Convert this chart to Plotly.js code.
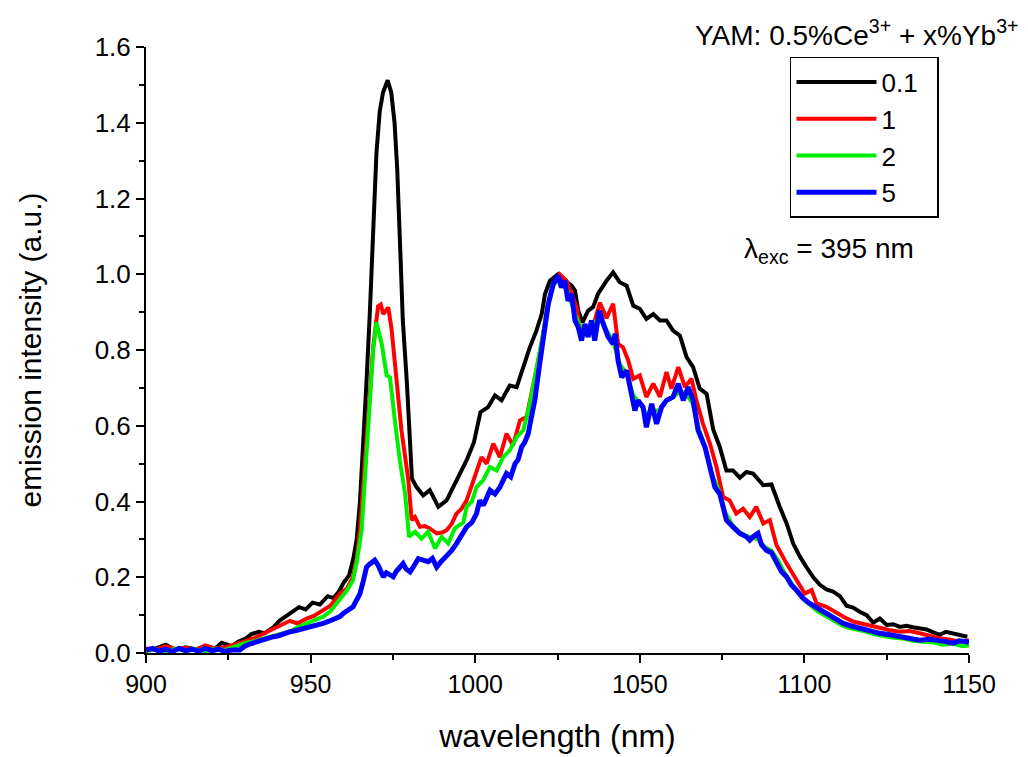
<!DOCTYPE html>
<html>
<head>
<meta charset="utf-8">
<script src="https://cdn.plot.ly/plotly-3.0.1.min.js"></script>
<style>html,body{margin:0;padding:0;background:#fff;}#chart{width:1028px;height:757px;}</style>
</head>
<body>
<div id="chart"></div>
<script>
// Yb 0.1%
var wl_01 = [900,903,906,909,912,915,918,921,923,926,928,930.4,932,934.3,936,938.5,940.5,942.5,944.5,946.5,948.5,950.6,952.8,955.2,957,958.6,960,961.7,963,964,965,966,967,968,969,970,971,972,973.4,974.5,975.5,976.3,977.3,978,979.2,980.2,980.8,982.2,984.2,986.2,988.8,991.3,993.3,995.5,997.4,999.6,1001.6,1003.9,1006,1008,1010.5,1012.6,1014.6,1016.6,1018.6,1020.2,1021.2,1022.7,1025.2,1027.2,1029.3,1030.3,1031.3,1032.6,1034.3,1035.8,1037.3,1039.9,1041.9,1043.9,1046,1048,1050,1052,1054.1,1056.1,1058.1,1060.1,1062.2,1064.2,1066.2,1068.2,1070.3,1072.3,1074.3,1076.3,1078.3,1080.4,1082.4,1084.4,1087.5,1090,1092.5,1094.6,1096.6,1098.6,1100.6,1102.7,1104.7,1106.7,1108.7,1110.8,1112.8,1114.8,1116.8,1118.9,1120.9,1122.9,1125,1127,1129,1131,1133,1135,1137.1,1139,1141.1,1143,1145.2,1147,1149.5];
var int_01 = [0.010,0.012,0.022,0.008,0.015,0.010,0.016,0.012,0.027,0.018,0.030,0.039,0.050,0.056,0.052,0.066,0.085,0.096,0.110,0.121,0.115,0.133,0.128,0.150,0.145,0.162,0.185,0.205,0.250,0.300,0.400,0.550,0.720,0.900,1.130,1.320,1.430,1.480,1.512,1.480,1.400,1.280,1.050,0.880,0.720,0.544,0.460,0.438,0.416,0.430,0.386,0.403,0.438,0.475,0.509,0.556,0.636,0.649,0.680,0.667,0.706,0.702,0.755,0.807,0.851,0.895,0.948,0.983,1.000,0.983,0.970,0.957,0.904,0.873,0.904,0.913,0.948,0.983,1.005,0.979,0.970,0.917,0.909,0.882,0.895,0.878,0.878,0.851,0.838,0.781,0.755,0.698,0.684,0.590,0.544,0.482,0.482,0.463,0.478,0.474,0.443,0.445,0.386,0.342,0.289,0.255,0.227,0.200,0.180,0.168,0.162,0.150,0.125,0.120,0.109,0.100,0.080,0.091,0.074,0.076,0.069,0.072,0.068,0.066,0.062,0.055,0.048,0.056,0.052,0.049,0.043];

// Yb 1%
var wl_1 = [900,903,906,909,912,915,918,921,924,927,930.4,933,935,938.7,941,943.7,946,948.8,951,953.8,956,958.9,961,962.9,964,965,966,967,968,969,970.5,971.3,972.1,973.6,974.6,976.1,977.6,979.7,980.7,981.7,983.2,984.7,986.2,988.3,990,991.3,992.8,994.3,995.8,997.4,999.4,1001.9,1003.5,1005.5,1007.5,1009.5,1011.5,1013.6,1015.6,1017.1,1018.6,1020.2,1021.7,1023.7,1025.7,1027.7,1029.3,1030.8,1031.8,1033.8,1036.3,1037.9,1039.9,1041.9,1043.4,1044.9,1046.5,1048,1050,1052,1054.1,1056.1,1058.1,1059.6,1061.7,1063.7,1065.7,1067.2,1069.2,1071.3,1073.3,1075.3,1077.3,1079.3,1081.4,1083.4,1085.4,1087.5,1089.5,1091.5,1094.6,1097.6,1100.1,1102.2,1103.7,1106.7,1109.8,1112,1114.8,1118.9,1122.9,1126,1129,1132,1135,1138,1141.1,1144,1147.2,1150];
var int_1 = [0.012,0.008,0.018,0.010,0.014,0.008,0.020,0.012,0.015,0.022,0.032,0.040,0.048,0.064,0.072,0.085,0.078,0.091,0.098,0.113,0.125,0.157,0.170,0.201,0.250,0.324,0.450,0.588,0.700,0.807,0.915,0.920,0.895,0.912,0.855,0.720,0.588,0.456,0.351,0.359,0.333,0.335,0.329,0.316,0.318,0.324,0.340,0.368,0.380,0.403,0.456,0.517,0.500,0.553,0.517,0.579,0.548,0.614,0.623,0.684,0.755,0.816,0.904,0.974,1.000,0.983,0.948,0.913,0.860,0.843,0.878,0.925,0.884,0.922,0.816,0.807,0.772,0.724,0.733,0.676,0.711,0.676,0.742,0.698,0.755,0.702,0.724,0.667,0.605,0.553,0.491,0.412,0.403,0.368,0.381,0.359,0.386,0.342,0.351,0.285,0.236,0.192,0.157,0.166,0.131,0.122,0.105,0.095,0.083,0.074,0.065,0.060,0.056,0.058,0.052,0.045,0.039,0.036,0.030,0.034];

// Yb 2%
var wl_2 = [900,903,906,909,912,915,918,921,924,927,930,933,936,938.7,941,943.7,946,948.8,951,953.8,956,958.9,961,962.9,964,965.5,966.8,968,969,970,971.6,973.1,974.1,975.6,977.1,978.7,979.9,981.7,983.7,985.7,987.8,989.8,991.8,993.8,996.4,997.4,999,1000.4,1002.4,1004.5,1006.5,1008.5,1010.5,1012.6,1014.6,1016.6,1018.3,1019.8,1021.2,1022.5,1023.7,1025.2,1026.5,1027.5,1029,1030.5,1032,1034,1036,1038,1040,1042,1044,1046,1048,1050,1052,1054,1056,1058,1060,1062,1064,1066,1068,1070,1072,1074,1076,1078,1080,1082,1084,1086,1088,1090,1092,1094,1096,1098,1100,1102,1104,1106,1108,1110,1112,1115,1118,1121,1124,1127,1130,1133,1136,1139,1142,1145,1148,1150];
var int_2 = [0.005,0.010,0.004,0.012,0.006,0.010,0.004,0.012,0.008,0.018,0.026,0.032,0.038,0.043,0.050,0.056,0.068,0.078,0.085,0.096,0.110,0.140,0.165,0.192,0.240,0.324,0.500,0.676,0.800,0.873,0.816,0.733,0.728,0.614,0.509,0.421,0.307,0.320,0.302,0.320,0.276,0.307,0.289,0.329,0.345,0.386,0.400,0.438,0.456,0.491,0.482,0.517,0.535,0.570,0.588,0.658,0.740,0.800,0.870,0.930,0.970,0.990,0.975,0.970,0.930,0.890,0.860,0.860,0.870,0.890,0.850,0.820,0.760,0.740,0.680,0.660,0.630,0.640,0.640,0.665,0.675,0.690,0.685,0.660,0.590,0.540,0.470,0.430,0.370,0.340,0.320,0.310,0.305,0.300,0.280,0.270,0.245,0.210,0.185,0.160,0.140,0.125,0.110,0.100,0.090,0.080,0.070,0.063,0.058,0.050,0.045,0.040,0.038,0.032,0.030,0.028,0.022,0.025,0.018,0.020];

// Yb 5%
var wl_5 = [900,902,904,906,908,910,912,914,916,918,920,922,924,926,928.5,930,932,933.6,935,937,938.7,940,942,943.7,945,947,948.8,950,952,953.8,955,957,958.9,960,961.5,962.9,964,965,966,967,968,969.5,970.5,971.3,972.1,973,974,975.1,976,977.1,978.1,979,980.2,981.2,982.7,984.2,985.7,987,988.3,989.5,991.3,992.8,994.3,995.8,997.4,999,1000.4,1001.4,1002.5,1004.5,1006,1007.5,1008.5,1009.5,1010.8,1012.1,1013,1014.1,1015,1016.1,1017,1018.1,1019.6,1021.2,1022.2,1023.7,1025.2,1026.2,1027.2,1028.2,1029.3,1030.3,1031.3,1032.3,1033.3,1034.3,1035.3,1036.3,1037.7,1038.9,1040.4,1041.9,1042.5,1043.4,1044.5,1046,1047.5,1048.5,1049.5,1051,1052,1053.6,1055.1,1056.6,1058.1,1060.1,1061.7,1063.2,1064.7,1066.2,1067.7,1069.8,1071.3,1072.8,1074.3,1076.3,1078.3,1080.4,1082.4,1083.4,1084.4,1085.9,1087,1088.5,1090,1091.5,1093,1094.6,1096,1097.6,1099.5,1101.6,1104,1106.7,1109,1111.8,1114,1116.8,1119.5,1122.9,1126,1129,1132,1135,1138,1141.1,1143,1145.2,1147,1149.2,1150];
var int_5 = [0.008,0.012,0.005,0.010,0.004,0.012,0.006,0.010,0.005,0.012,0.006,0.010,0.004,0.008,0.008,0.018,0.025,0.030,0.033,0.038,0.043,0.045,0.052,0.056,0.058,0.062,0.065,0.068,0.074,0.078,0.082,0.090,0.096,0.105,0.112,0.122,0.140,0.157,0.190,0.227,0.235,0.245,0.232,0.215,0.201,0.212,0.205,0.201,0.215,0.227,0.236,0.222,0.214,0.227,0.249,0.245,0.241,0.250,0.227,0.240,0.254,0.270,0.289,0.310,0.333,0.345,0.368,0.403,0.390,0.430,0.420,0.438,0.460,0.474,0.465,0.500,0.510,0.544,0.555,0.579,0.620,0.667,0.764,0.860,0.922,0.974,0.996,0.965,0.983,0.930,0.948,0.878,0.860,0.825,0.869,0.834,0.878,0.825,0.904,0.869,0.834,0.816,0.843,0.772,0.728,0.746,0.684,0.640,0.667,0.649,0.596,0.658,0.605,0.649,0.667,0.676,0.711,0.667,0.702,0.667,0.588,0.544,0.491,0.438,0.420,0.351,0.333,0.316,0.307,0.298,0.307,0.316,0.285,0.271,0.265,0.240,0.215,0.201,0.180,0.166,0.145,0.131,0.118,0.105,0.090,0.078,0.072,0.065,0.058,0.052,0.048,0.043,0.040,0.034,0.036,0.034,0.030,0.026,0.032,0.030,0.028];

var seriesNames = ['0.1','1','2','5'];
var seriesColors = ['#000000','#ff0000','#00ee00','#0000ff'];
var xTickVals = [900,950,1000,1050,1100,1150];
var yTickVals = [0.0,0.2,0.4,0.6,0.8,1.0,1.2,1.4,1.6];

var xs = [wl_01, wl_1, wl_2, wl_5];
var ys = [int_01, int_1, int_2, int_5];
var widths = [4, 4, 4, 5];

var FONT = 'Arial, "Liberation Sans", sans-serif';
var traces = [];
for (var i = 0; i < 4; i++) {
  traces.push({
    x: xs[i], y: ys[i], type: 'scatter', mode: 'lines',
    // trailing no-break spaces only widen the legend box to the reference's right padding
    name: seriesNames[i] + (i === 0 ? '\u00a0\u00a0' : ''), legendgroup: 'g' + i,
    line: {color: seriesColors[i], width: widths[i]}
  });
}

var layout = {
  width: 1028, height: 757,
  margin: {l: 146, r: 59, t: 47, b: 104, pad: 0},
  paper_bgcolor: '#fff', plot_bgcolor: '#fff',
  showlegend: true,
  font: {family: FONT, color: '#000'},
  xaxis: {
    range: [900, 1150], tickvals: xTickVals, ticktext: xTickVals.map(String),
    showgrid: false, zeroline: false, showline: true, linecolor: '#000', linewidth: 2,
    ticks: 'outside', ticklen: 8, tickwidth: 2, tickcolor: '#000',
    minor: {dtick: 25, ticks: 'outside', ticklen: 5, tickwidth: 2, tickcolor: '#000'},
    tickfont: {size: 25, family: FONT},
    title: {text: 'wavelength (nm)', font: {size: 32, family: FONT}, standoff: 28}
  },
  yaxis: {
    range: [0, 1.6], tickvals: yTickVals, ticktext: yTickVals.map(function(v){return v.toFixed(1);}),
    showgrid: false, zeroline: false, showline: true, linecolor: '#000', linewidth: 2,
    ticks: 'outside', ticklen: 8, tickwidth: 2, tickcolor: '#000',
    minor: {dtick: 0.1, ticks: 'outside', ticklen: 5, tickwidth: 2, tickcolor: '#000'},
    tickfont: {size: 26, family: FONT},
    title: {text: 'emission intensity (a.u.)', font: {size: 30, family: FONT}, standoff: 44}
  },
  legend: {
    x: 0.7825, y: 0.9835, xanchor: 'left', yanchor: 'top',
    bordercolor: '#000', borderwidth: 1.5, bgcolor: '#fff',
    font: {size: 26, family: FONT}, tracegroupgap: 1, itemwidth: 80,
    traceorder: 'normal'
  },
  annotations: [
    {xref: 'paper', yref: 'paper', x: 0.864, y: 1.023, xanchor: 'center', yanchor: 'middle', showarrow: false,
     text: 'YAM: 0.5%Ce<sup>3+</sup> + x%Yb<sup>3+</sup>', font: {size: 28, family: FONT}},
    {xref: 'paper', yref: 'paper', x: 0.83, y: 0.665, xanchor: 'center', yanchor: 'middle', showarrow: false,
     text: '\u03bb<sub>exc</sub> = 395 nm', font: {size: 28, family: FONT}}
  ]
};

Plotly.newPlot('chart', traces, layout, {displayModeBar: false, responsive: false});
</script>
</body>
</html>
